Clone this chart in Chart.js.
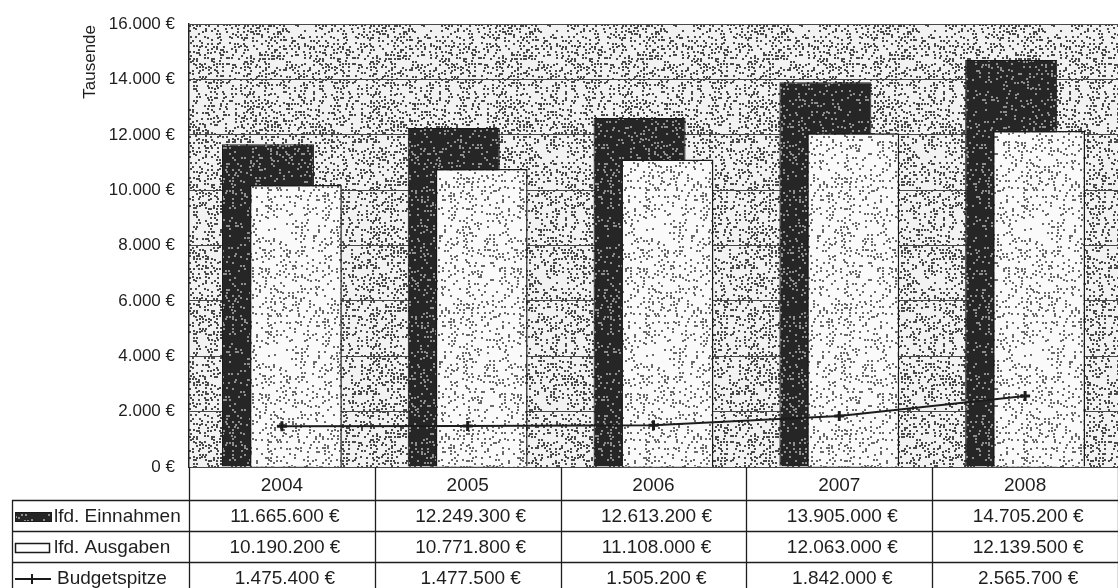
<!DOCTYPE html>
<html lang="de">
<head>
<meta charset="utf-8">
<title>Einnahmen, Ausgaben und Budgetspitze 2004–2008</title>
<script src="https://cdn.jsdelivr.net/npm/chart.js@4.4.1/dist/chart.umd.min.js"></script>
<style>
  html, body { margin: 0; padding: 0; background: #fff; overflow: hidden; }
  canvas { display: block; }
</style>
</head>
<body>
<canvas id="haushalt" width="1126" height="600"></canvas>
<script>
// Werte in Euro
const jahre = ['2004', '2005', '2006', '2007', '2008'];
const einnahmen = [11665600, 12249300, 12613200, 13905000, 14705200];
const ausgaben = [10190200, 10771800, 11108000, 12063000, 12139500];
const budgetspitze = [1475400, 1477500, 1505200, 1842000, 2565700];

const SCHRIFT = '"Liberation Sans", Arial, sans-serif';
Chart.defaults.font.family = SCHRIFT;
Chart.defaults.color = '#1e1e1e';

const punkte = n => String(Math.round(n)).replace(/\B(?=(\d{3})+(?!\d))/g, '.');
const euro = n => punkte(n) + ' €';

// fester Hash für das Punktraster
function streu(x, y, s) {
  let h = (x * 374761393 + y * 668265263 + s * 982451653) | 0;
  h = Math.imul(h ^ (h >>> 13), 1274126177);
  h ^= h >>> 16;
  return (h >>> 0) / 4294967296;
}

// Punktraster wie im Druck
function raster(grund, punkt, dichte, s) {
  const n = 126;
  const c = document.createElement('canvas');
  c.width = c.height = n;
  const g = c.getContext('2d');
  g.fillStyle = grund;
  g.fillRect(0, 0, n, n);
  g.fillStyle = punkt;
  for (let y = 0; y < n; y += 3) {
    for (let x = 0; x < n; x += 3) {
      if (streu(x, y, s) < dichte) {
        const dx = Math.floor(streu(x, y, s + 1) * 2);
        const dy = Math.floor(streu(x, y, s + 2) * 2);
        g.fillRect(x + dx, y + dy, 2, 2);
      }
    }
  }
  return g.createPattern(c, 'repeat');
}
const rasterFlaeche = raster('#f2f2f2', '#4a4a4a', 0.5, 3);
const rasterHell = raster('#fafafa', '#6a6a6a', 0.3, 11);
const rasterDunkel = raster('#262626', '#8e8e8e', 0.3, 29);

const flaeche = {
  id: 'flaeche',
  beforeDraw(chart) {
    const { ctx, chartArea: a } = chart;
    ctx.save();
    ctx.fillStyle = rasterFlaeche;
    ctx.fillRect(a.left, a.top, a.right - a.left, a.bottom - a.top);
    ctx.restore();
  }
};

// Einnahmen-Säulen hinter die Ausgaben legen
const hinten = {
  id: 'hinten',
  beforeDatasetsDraw(chart) {
    chart.getDatasetMeta(0).controller.draw();
  },
  beforeDatasetDraw(chart, args) {
    if (args.index === 0) return false;
  }
};

// Datentabelle unter dem Diagramm
const tabelle = {
  id: 'tabelle',
  afterDraw(chart) {
    const { ctx, chartArea: a, scales: { x } } = chart;
    const breite = x.getPixelForValue(1) - x.getPixelForValue(0);
    const start = x.getPixelForValue(0) - breite / 2;
    const kopf = a.bottom + 33;
    const zeile = 31;
    const links = 12;
    const unten = kopf + 3 * zeile;
    const zeilen = [
      { name: 'lfd. Einnahmen', werte: einnahmen },
      { name: 'lfd. Ausgaben', werte: ausgaben },
      { name: 'Budgetspitze', werte: budgetspitze }
    ];

    ctx.save();
    ctx.strokeStyle = '#1e1e1e';
    ctx.lineWidth = 1.3;
    ctx.beginPath();
    for (let i = 0; i <= jahre.length; i++) {
      const xp = Math.round(start + i * breite) + 0.5;
      ctx.moveTo(xp, a.bottom);
      ctx.lineTo(xp, unten);
    }
    for (let r = 0; r <= 3; r++) {
      const y = kopf + r * zeile + 0.5;
      ctx.moveTo(links, y);
      ctx.lineTo(chart.width, y);
    }
    ctx.moveTo(links + 0.5, kopf);
    ctx.lineTo(links + 0.5, unten);
    ctx.stroke();

    ctx.fillStyle = '#1e1e1e';
    ctx.font = '19px ' + SCHRIFT;
    ctx.textBaseline = 'middle';
    zeilen.forEach((z, r) => {
      const ym = kopf + r * zeile + 17;
      ctx.textAlign = 'center';
      z.werte.forEach((v, i) => ctx.fillText(euro(v), x.getPixelForValue(i) + 3, ym));
      ctx.textAlign = 'left';
      ctx.fillText(z.name, r === 2 ? 57 : 54, ym);
    });

    // Legendensymbole
    let ym = kopf + 17;
    ctx.fillStyle = rasterDunkel;
    ctx.fillRect(15, ym - 5, 37, 10);
    ctx.strokeStyle = '#1a1a1a';
    ctx.lineWidth = 1;
    ctx.strokeRect(15.5, ym - 4.5, 36, 9);
    ym += zeile;
    ctx.lineWidth = 1.5;
    ctx.strokeRect(15.5, ym - 4.5, 34, 9);
    ym += zeile;
    ctx.lineWidth = 2;
    ctx.beginPath();
    ctx.moveTo(15, ym);
    ctx.lineTo(51, ym);
    ctx.stroke();
    Chart.helpers.drawPoint(ctx, { pointStyle: 'cross', radius: 5, borderWidth: 2 }, 32, ym);

    // Achsentitel
    ctx.translate(90, 25);
    ctx.rotate(-Math.PI / 2);
    ctx.textAlign = 'right';
    ctx.font = '17px ' + SCHRIFT;
    ctx.fillStyle = '#1e1e1e';
    ctx.fillText('Tausende', 0, 0);
    ctx.restore();
  }
};

new Chart(document.getElementById('haushalt'), {
  type: 'bar',
  data: {
    labels: jahre,
    datasets: [
      {
        label: 'lfd. Einnahmen',
        data: einnahmen,
        backgroundColor: rasterDunkel,
        borderColor: '#1a1a1a',
        borderWidth: 1,
        categoryPercentage: 0.3,
        barPercentage: 3.3
      },
      {
        label: 'lfd. Ausgaben',
        data: ausgaben,
        backgroundColor: rasterHell,
        borderColor: '#1a1a1a',
        borderWidth: 1.5,
        categoryPercentage: 0.3,
        barPercentage: 3.3
      },
      {
        type: 'line',
        label: 'Budgetspitze',
        data: budgetspitze,
        order: -1,
        borderColor: '#1c1c1c',
        borderWidth: 2,
        pointStyle: 'cross',
        pointRadius: 5,
        pointBorderWidth: 3,
        pointBorderColor: '#1c1c1c',
        tension: 0
      }
    ]
  },
  options: {
    responsive: false,
    animation: false,
    layout: { padding: { top: 17, left: 0, right: 0, bottom: 0 } },
    plugins: {
      legend: { display: false },
      tooltip: { enabled: false }
    },
    scales: {
      x: {
        grid: { display: false, drawTicks: false },
        border: { display: false },
        ticks: { font: { size: 19 }, padding: 7 },
        afterFit: s => { s.height = 133; }
      },
      y: {
        min: 0,
        max: 16000000,
        ticks: {
          stepSize: 2000000,
          font: { size: 17 },
          padding: 14,
          callback: v => euro(v / 1000)
        },
        grid: { color: '#474747', lineWidth: 1, drawTicks: false },
        border: { color: '#222', width: 1.5 },
        afterFit: s => { s.width = 189; }
      }
    }
  },
  plugins: [flaeche, hinten, tabelle]
});
</script>
</body>
</html>
